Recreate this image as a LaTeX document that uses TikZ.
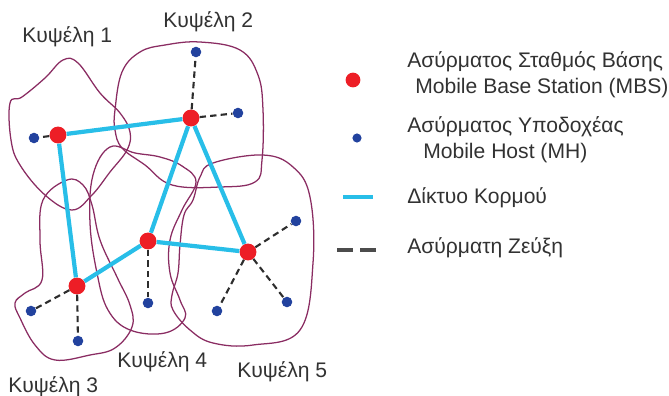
\documentclass[tikz,border=0pt]{standalone}
\usepackage{fontspec}
\setmainfont{Liberation Sans}
\usetikzlibrary{positioning}
\definecolor{mbsc}{RGB}{237,30,38}
\definecolor{mhc}{RGB}{34,66,158}
\definecolor{trunkc}{RGB}{40,190,232}
\definecolor{cellc}{RGB}{138,44,98}
\definecolor{linkc}{RGB}{45,45,45}
\definecolor{txtc}{RGB}{50,50,50}
\tikzset{
  mbs/.style={circle, fill=mbsc, inner sep=0pt, minimum size=12pt},
  mh/.style={circle, fill=mhc, inner sep=0pt, minimum size=7.5pt},
  trunk/.style={trunkc, line width=3pt},
  wlink/.style={linkc, line width=1.5pt, dash pattern=on 4.5pt off 3pt},
  cell/.style={cellc, line width=0.9pt},
  lbl/.style={font=\fontsize{15}{17}\selectfont, text=txtc, inner sep=0pt,
              anchor=base west},
}

\begin{document}
\begin{tikzpicture}[x=0.025cm, y=-0.025cm]
\useasboundingbox (0,0) rectangle (669,395);

% ---------------------------------------------------------------- cells
% cell 1
\draw[cell] plot[smooth cycle, tension=0.65] coordinates {(10,103) (22,97)
  (45,78) (63,60) (78,63) (100,93) (120,113) (130,132) (127,150) (110,172)
  (92,195) (72,210) (45,195) (20,165) (11,140)};
% cell 2
\draw[cell] plot[smooth cycle, tension=0.65] coordinates {(115,110) (122,72)
  (140,52) (165,45) (200,42) (240,50) (258,75) (263,110) (262,160) (255,182)
  (220,187) (172,185) (145,165) (122,148) (115,130)};
% cell 3
\draw[cell] plot[smooth cycle, tension=0.65] coordinates {(67,180) (83,185)
  (92,205) (100,240) (117,277) (130,305) (132,327) (115,348) (90,355)
  (55,360) (35,345) (20,318) (15,303) (25,293) (42,280) (40,240) (43,200)};
% cell 4
\draw[cell] plot[smooth cycle, tension=0.65] coordinates {(110,147) (135,153)
  (160,157) (182,166) (196,182) (182,210) (170,240) (170,273) (180,300)
  (185,318) (165,333) (130,330) (108,310) (97,273) (90,223) (93,175)};
% cell 5
\draw[cell] plot[smooth cycle, tension=0.65] coordinates {(213,163) (263,155)
  (293,167) (310,197) (313,263) (300,330) (253,345) (213,343) (190,330)
  (173,310) (172,295) (178,273) (180,245) (184,215) (193,200) (200,177)};

% ---------------------------------------------------------------- stations
\node[mbs] (bs1) at (58,135) {};
\node[mbs] (bs2) at (191,118) {};
\node[mbs] (bs3) at (77,286) {};
\node[mbs] (bs4) at (148,241) {};
\node[mbs] (bs5) at (248,252) {};

% ---------------------------------------------------------------- hosts
\node[mh] (h1a) at (34,138) {};
\node[mh] (h2a) at (196,52) {};
\node[mh] (h2b) at (238,113) {};
\node[mh] (h3a) at (31,311) {};
\node[mh] (h3b) at (78,341) {};
\node[mh] (h4a) at (148,303) {};
\node[mh] (h5a) at (296,221) {};
\node[mh] (h5b) at (287,302) {};
\node[mh] (h5c) at (217,311) {};

% backbone
\draw[trunk] (bs1) -- (bs2);
\draw[trunk] (bs1) -- (bs3);
\draw[trunk] (bs3) -- (bs4);
\draw[trunk] (bs4) -- (bs2);
\draw[trunk] (bs2) -- (bs5);
\draw[trunk] (bs4) -- (bs5);

% wireless links
\draw[wlink] (bs1) -- (h1a);
\draw[wlink] (bs2) -- (h2a);
\draw[wlink] (bs2) -- (h2b);
\draw[wlink] (bs3) -- (h3a);
\draw[wlink] (bs3) -- (h3b);
\draw[wlink] (bs4) -- (h4a);
\draw[wlink] (bs5) -- (h5a);
\draw[wlink] (bs5) -- (h5b);
\draw[wlink] (bs5) -- (h5c);

% ---------------------------------------------------------------- cell names
\node[lbl] (c1) at (22,42) {Κυψέλη 1};
\node[lbl] (c2) at (163,27) {Κυψέλη 2};
\node[lbl] (c3) at (8,392) {Κυψέλη 3};
\node[lbl] (c4) at (117,367) {Κυψέλη 4};
\node[lbl] (c5) at (237,377) {Κυψέλη 5};

% ---------------------------------------------------------------- legend
\node[mbs, minimum size=10.5pt] (kbs) at (353,80) {};
\node[lbl] (kbs1) at (407,67) {Ασύρματος Σταθμός Βάσης};
\node[lbl] (kbs2) at (415,93) {Mobile Base Station (MBS)};

\node[mh, minimum size=6.5pt] (kmh) at (357,138) {};
\node[lbl] (kmh1) at (407,132) {Ασύρματος Υποδοχέας};
\node[lbl] (kmh2) at (423,158) {Mobile Host (MH)};

\coordinate (ktr1) at (343,197);
\coordinate (ktr2) at (373,197);
\draw[trunkc, line width=2.8pt] (ktr1) -- (ktr2);
\node[lbl] (ktr) at (407,203) {Δίκτυο Κορμού};

\coordinate (kwl1) at (337,250);
\coordinate (kwl2) at (380,250);
\draw[linkc!85, line width=2.8pt, dash pattern=on 11.5pt off 5pt] (kwl1) -- (kwl2);
\node[lbl] (kwl) at (407,253) {Ασύρματη Ζεύξη};

\end{tikzpicture}
\end{document}
